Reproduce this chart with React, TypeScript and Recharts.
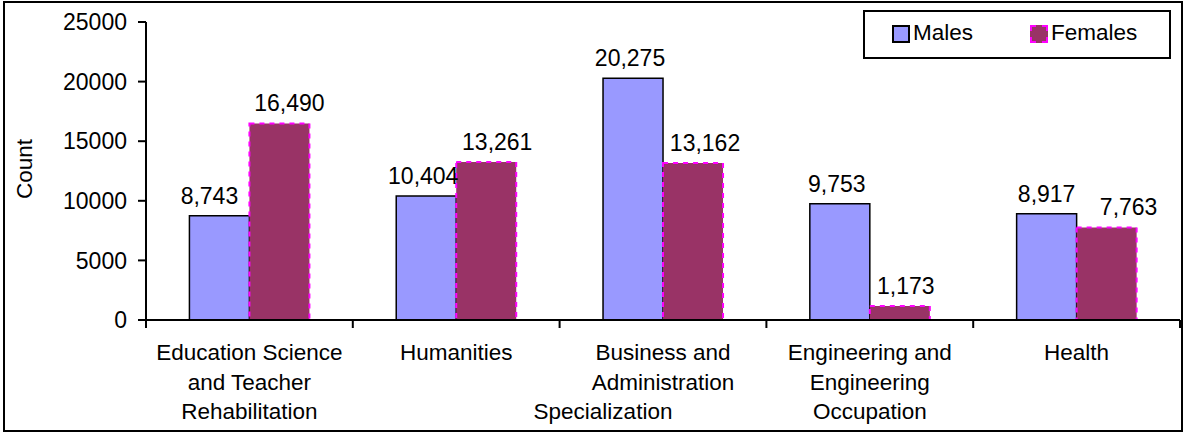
import React from 'react';
import { BarChart, Bar, XAxis, YAxis, LabelList, Legend } from 'recharts';

const categories = [
  'Education Science and Teacher Rehabilitation',
  'Humanities',
  'Business and Administration Specialization',
  'Engineering and Engineering Occupation',
  'Health',
];
const categoryLines = [
  ['Education Science', 'and Teacher', 'Rehabilitation'],
  ['Humanities'],
  ['Business and', 'Administration', 'Specialization'],
  ['Engineering and', 'Engineering', 'Occupation'],
  ['Health'],
];
const males = [8743, 10404, 20275, 9753, 8917];
const females = [16490, 13261, 13162, 1173, 7763];
const yTicks = [0, 5000, 10000, 15000, 20000, 25000];
const seriesNames = { males: 'Males', females: 'Females' };

const data = categories.map((c, i) => ({ name: c, males: males[i], females: females[i] }));

// styling: horizontal nudges of the value labels (as placed in the original)
const maleLabelNudge = [-10, -3, -3, -3, 0];
const femaleLabelNudge = [10, 11, 12, 6, 22];
// styling: horizontal nudge of individual category-label lines
const lineNudge: Record<string, number> = { Specialization: -60 };

const W = 1183;
const H = 432;
const M = { top: 22, right: 3, left: 0, bottom: 12 };
const YW = 146;
const XH = 100;
const band = (W - M.left - M.right - YW) / categories.length;
const FONT = '"Liberation Sans", Arial, sans-serif';
const FS = 22.5;
const FSV = 23;
const MALE_FILL = '#9999FF';
const FEMALE_FILL = '#993366';
const MAGENTA = '#FF00FF';

function CatTick(props: any) {
  const { x, y, payload, index } = props;
  const idx = payload && typeof payload.index === 'number' ? payload.index : index;
  const lines = categoryLines[idx] || [String(payload.value)];
  return (
    <g>
      <line x1={x - band / 2} x2={x - band / 2} y1={y} y2={y + 8} stroke="#000" strokeWidth={2} />
      {idx === categories.length - 1 && (
        <line x1={x + band / 2} x2={x + band / 2} y1={y} y2={y + 8} stroke="#000" strokeWidth={2} />
      )}
      {lines.map((l: string, i: number) => (
        <text
          key={i}
          x={x + (lineNudge[l] || 0)}
          y={y + 40 + i * 29.5}
          textAnchor="middle"
          fontFamily={FONT}
          fontSize={FS}
          fill="#000"
        >
          {l}
        </text>
      ))}
    </g>
  );
}

function LegendBox() {
  return (
    <div
      style={{
        position: 'absolute',
        left: 863,
        top: 10,
        width: 304,
        height: 45,
        border: '2px solid #000',
        background: '#fff',
        fontFamily: FONT,
        fontSize: FS,
        boxSizing: 'content-box',
      }}
    >
      <div style={{ position: 'absolute', left: 27, top: 13, width: 14, height: 14, background: MALE_FILL, border: '2px solid #000' }} />
      <div style={{ position: 'absolute', left: 48, top: 8, lineHeight: '26px' }}>{seriesNames.males}</div>
      <div style={{ position: 'absolute', left: 165, top: 13, width: 14, height: 14, background: FEMALE_FILL, border: '2px dashed ' + MAGENTA }} />
      <div style={{ position: 'absolute', left: 186, top: 8, lineHeight: '26px' }}>{seriesNames.females}</div>
    </div>
  );
}

function YLabel(props: any) {
  const vb = props.viewBox || {};
  const cy = vb.y + vb.height / 2 - 2;
  return (
    <text
      x={24}
      y={cy}
      transform={`rotate(-90, 24, ${cy})`}
      textAnchor="middle"
      dominantBaseline="central"
      fontFamily={FONT}
      fontSize={FS}
      fill="#000"
    >
      Count
    </text>
  );
}

const fmt = (v: any) => Number(v).toLocaleString('en-US');

function makeValueLabel(nudge: number[]) {
  return (props: any) => {
    const { x, y, width, value, index } = props;
    return (
      <text
        x={x + width / 2 + (nudge[index] || 0)}
        y={y - 12}
        textAnchor="middle"
        fontFamily={FONT}
        fontSize={FSV}
        fill="#000"
      >
        {fmt(value)}
      </text>
    );
  };
}

export default function App() {
  return (
    <div style={{ position: 'absolute', left: 0, top: 0, width: W, height: H, background: '#fff' }}>
      <div
        style={{
          position: 'absolute',
          left: 3,
          top: 1,
          width: 1176,
          height: 427,
          border: '2px solid #000',
        }}
      />
      <BarChart
        width={W}
        height={H}
        data={data}
        margin={M}
        barCategoryGap="21%"
        barGap={0}
        style={{ position: 'absolute', left: 0, top: 0 }}
      >
        <XAxis
          dataKey="name"
          height={XH}
          interval={0}
          tickLine={false}
          tickSize={0}
          tickMargin={0}
          axisLine={{ stroke: '#000', strokeWidth: 2 }}
          tick={<CatTick />}
        />
        <YAxis
          width={YW}
          domain={[0, 25000]}
          ticks={yTicks}
          interval={0}
          tickSize={8}
          tickMargin={11}
          axisLine={{ stroke: '#000', strokeWidth: 2 }}
          tickLine={{ stroke: '#000', strokeWidth: 2 }}
          tick={{ fill: '#000', fontFamily: FONT, fontSize: FSV }}
          label={<YLabel />}
        />
        <Legend
          verticalAlign="top"
          align="right"
          wrapperStyle={{ position: 'absolute', left: 0, top: 0, width: 0, height: 0 }}
          content={() => <LegendBox />}
        />
        <Bar dataKey="males" name={seriesNames.males} fill={MALE_FILL} stroke="#000" strokeWidth={1.5} isAnimationActive={false}>
          <LabelList dataKey="males" content={makeValueLabel(maleLabelNudge)} />
        </Bar>
        <Bar
          dataKey="females"
          name={seriesNames.females}
          fill={FEMALE_FILL}
          stroke={MAGENTA}
          strokeWidth={2}
          strokeDasharray="5 5"
          isAnimationActive={false}
        >
          <LabelList dataKey="females" content={makeValueLabel(femaleLabelNudge)} />
        </Bar>
      </BarChart>
    </div>
  );
}
